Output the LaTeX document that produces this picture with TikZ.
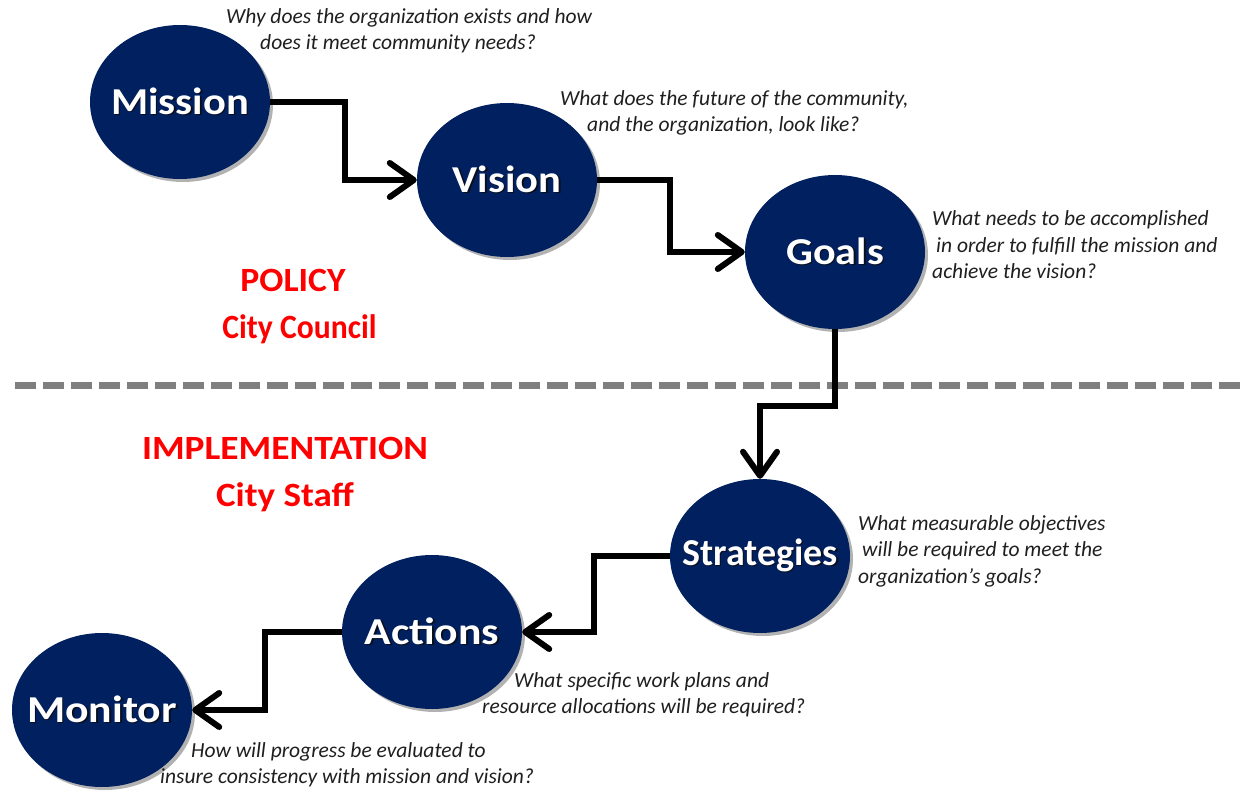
\documentclass[tikz,border=0pt]{standalone}
\usepackage{fontspec}
\setmainfont{Carlito}
\usetikzlibrary{arrows.meta,shapes.geometric,shadows}
\definecolor{navy}{HTML}{002060}
\definecolor{polred}{HTML}{FF0000}
\definecolor{dashgray}{HTML}{7F7F7F}
\definecolor{txtshadow}{HTML}{0A0F1E}
\newcommand\shtxt[2]{\makebox[0pt]{\scalebox{#1}[1]{\rlap{\hspace{1.5pt}\raisebox{-1.5pt}{\textcolor{txtshadow}{#2}}}#2}}}
\begin{document}
\begin{tikzpicture}[x=1pt,y=-1pt,
  stage/.style={ellipse, fill=navy, minimum width=180pt, minimum height=154pt, inner sep=0pt,
    text=white, font=\fontsize{38}{38}\selectfont\bfseries,
    drop shadow={shadow xshift=3pt, shadow yshift=-3pt, opacity=0.3, fill=black}},
  qtext/.style={font=\fontsize{21.5}{26.5}\selectfont\itshape, text=black!88, inner sep=0pt, align=left},
  redlbl/.style={font=\fontsize{34}{47}\selectfont\bfseries, text=polred, align=center, inner sep=0pt},
  conn/.style={line width=6pt, draw=black, -{Straight Barb[length=24pt,width=34pt,round]}},
  sep/.style={draw=dashgray, line width=7pt, dash pattern=on 21pt off 7pt}
]
\fill[white] (0,0) rectangle (1242,791);
\useasboundingbox (0,0) rectangle (1242,791);

% separator
\coordinate (sepL) at (15,386);
\coordinate (sepR) at (1242,386);
\draw[sep] (sepL) -- (sepR);

% stages
\node[stage] (mission) at (180,102) {\shtxt{1.12}{Mission}};
\node[stage] (vision) at (507,180) {\shtxt{1.12}{Vision}};
\node[stage] (goals) at (835,252) {\shtxt{1.11}{Goals}};
\node[stage] (strategies) at (760,556) {\shtxt{1.0}{Strategies}};
\node[stage] (actions) at (432,632) {\shtxt{1.15}{Actions}};
\node[stage] (monitor) at (102,710) {\shtxt{1.15}{Monitor}};

% bend points
\coordinate (b1) at (345,102);
\coordinate (b2) at (670,180);
\coordinate (b3) at (760,406);
\coordinate (b4) at (594,556);
\coordinate (b5) at (265,632);

% connectors
\draw[conn] (mission.east) -- (b1) |- (vision.west);
\draw[conn] (vision.east) -- (b2) |- (goals.west);
\draw[conn] (goals.south) |- (b3) -- (strategies.north);
\draw[conn] (strategies.west) -- (b4) |- (actions.east);
\draw[conn] (actions.west) -- (b5) |- (monitor.east);

% questions
\node[qtext, anchor=west] (qmission) at (226,31) {Why does the organization exists and how\\\hspace{34pt}does it meet community needs?};
\node[qtext, anchor=west] (qvision) at (560,113) {What does the future of the community,\\\hspace{27pt}and the organization, look like?};
\node[qtext, anchor=west] (qgoals) at (932,245) {What needs to be accomplished\\\hspace{4pt}in order to fulfill the mission and\\achieve the vision?};
\node[qtext, anchor=west] (qstrat) at (858,551) {What measurable objectives\\\hspace{4pt}will be required to meet the\\organization’s goals?};
\node[qtext, anchor=west] (qactions) at (482,695) {\hspace{32pt}What specific work plans and\\resource allocations will be required?};
\node[qtext, anchor=west] (qmonitor) at (160,765) {\hspace{31pt}How will progress be evaluated to\\insure consistency with mission and vision?};

% labels
\node[redlbl] (policy) at (293,307) {\scalebox{1.05}[1]{POLICY}\hspace{13pt}\\\hspace{13pt}\scalebox{0.93}[1]{City Council}};
\node[redlbl] (impl) at (285,475) {\scalebox{1.10}[1]{IMPLEMENTATION}\\\scalebox{1.09}[1]{City Staff}};
\end{tikzpicture}
\end{document}
